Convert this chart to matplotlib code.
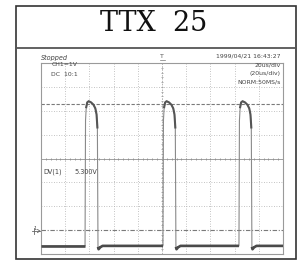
import numpy as np
import matplotlib
matplotlib.use('Agg')
import matplotlib.pyplot as plt
from matplotlib.patches import Rectangle

# ---------------- data ----------------
title = "TTX  25"
time_per_div_us = 20.0
volts_per_div = 1.0
rise_times_us = [-63.6, 0.8, 63.6]
baseline_v = -0.66
pulse_offsets_us = [0.0, 0.4, 1.0, 1.8, 3.0, 5.0, 7.0, 8.5, 9.5, 10.2, 10.7, 11.2, 12.5, 14.5]
pulse_levels_v = [-0.66, 4.6, 5.15, 5.35, 5.4, 5.35, 5.25, 5.1, 4.85, 4.3, -0.7, -0.8, -0.72, -0.66]
cursor_upper_v = 5.3
cursor_lower_v = 0.0
status_text = "Stopped"
channel_lines = ["CH1=1V", "DC  10:1"]
timestamp = "1999/04/21 16:43:27"
time_lines = ["20us/div", "(20us/div)", "NORM:50MS/s"]
dv_label = "DV(1)"
dv_value = "5.300V"

# ---------------- figure ----------------
W, H = 303, 264
fig = plt.figure(figsize=(W / 100, H / 100), dpi=100)
fig.patch.set_facecolor('white')

gl, gr, gt, gb = 41, 283, 63, 254
ax = fig.add_axes([gl / W, (H - gb) / H, (gr - gl) / W, (gb - gt) / H])
xmin, xmax = -5 * time_per_div_us, 5 * time_per_div_us
ymin, ymax = -1 * volts_per_div, 7 * volts_per_div
ax.set_xlim(xmin, xmax)
ax.set_ylim(ymin, ymax)
ax.set_xticks([])
ax.set_yticks([])
for s in ax.spines.values():
    s.set_color('#9a9a9a')
    s.set_linewidth(0.8)

ycen = (ymin + ymax) / 2
# dotted grid
for k in range(1, 10):
    x = xmin + k * time_per_div_us
    if abs(x) < 1e-9:
        continue
    ax.axvline(x, color='#b0b0b0', lw=0.6, ls=(0, (1, 2)), zorder=1)
for k in range(1, 8):
    y = ymin + k * volts_per_div
    if abs(y - ycen) < 1e-9 or abs(y - cursor_lower_v) < 1e-9:
        continue
    ax.axhline(y, color='#b0b0b0', lw=0.6, ls=(0, (1, 2)), zorder=1)

# centre axes with small ticks
ax.axhline(ycen, color='#a0a0a0', lw=0.7, zorder=1)
ax.axvline(0, color='#a8a8a8', lw=0.6, ls=(0, (2, 1.5)), zorder=1)
tx = np.arange(xmin, xmax + 0.01, time_per_div_us / 5)
ax.plot(tx, np.full_like(tx, ycen), ls='none', marker='|', ms=2.0, mew=0.6, color='#909090', zorder=2)
ty = np.arange(ymin, ymax + 0.01, volts_per_div / 5)
ax.plot(np.zeros_like(ty), ty, ls='none', marker='_', ms=2.0, mew=0.6, color='#a0a0a0', zorder=2)

# cursors
ax.axhline(cursor_upper_v, color='#7a7a7a', lw=0.8, ls=(0, (3, 1.5)), zorder=2)
ax.axhline(cursor_lower_v, color='#7a7a7a', lw=0.8, ls=(0, (4, 1.5, 1, 1.5)), zorder=2)

# trace
t = [xmin]
v = [baseline_v]
for r in rise_times_us:
    t += [r + o for o in pulse_offsets_us]
    v += list(pulse_levels_v)
t.append(xmax)
v.append(baseline_v)
t = np.array(t)
v = np.array(v)
ax.plot(t, v, color='#8a8a8a', lw=0.8, zorder=3)

# thicker flat parts
starts = [xmin] + [r + pulse_offsets_us[10] for r in rise_times_us]
ends = list(rise_times_us) + [xmax]
for a, b in zip(starts, ends):
    m = (t >= a - 1e-9) & (t <= b + 1e-9)
    ax.plot(t[m], v[m], color='#4a4a4a', lw=1.9, zorder=4, solid_capstyle='butt')
for r in rise_times_us:
    m = (t >= r + pulse_offsets_us[2] - 1e-9) & (t <= r + pulse_offsets_us[9] + 1e-9)
    ax.plot(t[m], v[m], color='#555555', lw=1.5, zorder=4)

# ---------------- overlay: frames and texts ----------------
ov = fig.add_axes([0, 0, 1, 1], zorder=10)
ov.set_xlim(0, W)
ov.set_ylim(H, 0)
ov.axis('off')
ov.patch.set_alpha(0)

ov.add_patch(Rectangle((16, 6), 280, 253, fill=False, ec='#333333', lw=1.2))
ov.plot([16, 296], [48, 48], color='#555555', lw=1.3)
ov.text(154, 23.5, title, ha='center', va='center', fontsize=19.5,
        family='DejaVu Serif', color='#111111')

tc = '#444444'
fs = 4.4
ov.text(41, 57.5, status_text, ha='left', va='center', fontsize=4.7, style='italic', color=tc)
for i, s in enumerate(channel_lines):
    ov.text(78, 65 + 9 * i, s, ha='right', va='center', fontsize=fs, color=tc)
ov.text(281, 56.5, timestamp, ha='right', va='center', fontsize=fs, color=tc)
for i, s in enumerate(time_lines):
    ov.text(281, 65 + 8.5 * i, s, ha='right', va='center', fontsize=fs, color=tc)
ov.text(43, 172, dv_label, ha='left', va='center', fontsize=4.7, color=tc)
ov.text(97, 172, dv_value, ha='right', va='center', fontsize=4.7, color=tc)
# trigger marker
ov.text(162, 56.5, "T", ha='center', va='center', fontsize=4.5, color='#555555')
ov.plot([159.5, 164.5], [59.5, 59.5], color='#777777', lw=0.5)
# ground marker
ov.text(35, 229, "1", ha='center', va='center', fontsize=3.8, color='#555555')
ov.plot([32, 40], [231, 231], color='#666666', lw=0.6)
ov.plot([37.5, 40, 37.5], [229.5, 231, 232.5], color='#666666', lw=0.6)
ov.plot([34, 34], [228, 234], color='#666666', lw=0.6)

fig.savefig('out.png', dpi=100, facecolor='white')
